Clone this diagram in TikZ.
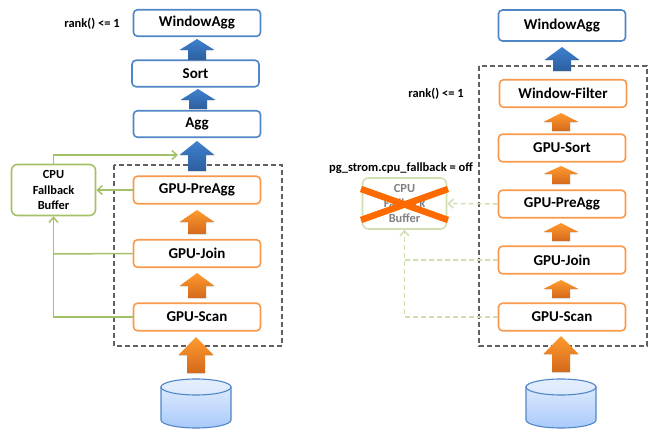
\documentclass[tikz,border=0pt]{standalone}
\usepackage{fontspec}
\setmainfont{Carlito}
\usetikzlibrary{arrows.meta,shadows}
\definecolor{bluebox}{HTML}{4F86C6}
\definecolor{orangebox}{HTML}{F8994C}
\definecolor{greenbox}{HTML}{A3C268}
\definecolor{palegreen}{HTML}{CFDFB2}
\definecolor{crossorange}{HTML}{FF6A00}
\definecolor{dashgray}{HTML}{606060}
\definecolor{bluetop}{HTML}{3F80CF}
\definecolor{bluebottom}{HTML}{2C5F9E}
\definecolor{orangetop}{HTML}{FF9A2E}
\definecolor{orangebottom}{HTML}{D4691C}
\definecolor{disktop}{HTML}{DCE9FD}
\definecolor{diskbottom}{HTML}{A9CAFB}
\tikzset{
    block/.style = {draw=bluebox, rectangle, fill=white, rounded corners=4pt, line width=1.6pt,
        minimum width=127pt, minimum height=26.5pt, inner sep=0pt,
        font=\fontsize{15}{17}\selectfont\bfseries},
    gpublock/.style = {block, draw=orangebox, minimum height=27.5pt},
    fallback/.style = {draw=greenbox, rectangle, rounded corners=6pt, line width=1.6pt, fill=white,
        minimum width=84pt, minimum height=51pt, inner sep=0pt, align=center,
        font=\fontsize{12.4}{15.2}\selectfont\bfseries},
    note/.style = {inner sep=0pt, font=\fontsize{12.5}{15}\selectfont\bfseries},
    frame/.style = {draw=dashgray, line width=1.1pt, dash pattern=on 5pt off 3pt},
    feed/.style = {draw=greenbox, line width=1.5pt, -{Straight Barb[length=5pt,width=9pt]}},
    feedline/.style = {draw=greenbox, line width=1.5pt},
    nofeed/.style = {draw=palegreen, line width=1.5pt, dash pattern=on 5pt off 3pt, -{Straight Barb[length=5pt,width=9pt]}},
    nofeedline/.style = {draw=palegreen, line width=1.5pt, dash pattern=on 5pt off 3pt},
    bluearrow/.style = {top color=bluetop, bottom color=bluebottom, drop shadow={opacity=.25,shadow xshift=0pt,shadow yshift=-1.2pt}},
    orangearrow/.style = {top color=orangetop, bottom color=orangebottom, drop shadow={opacity=.25,shadow xshift=0pt,shadow yshift=-1.2pt}},
}
% x, tip, head base, bottom
\newcommand{\flowarrow}[5]{%
    \shade [#1] (#2,#3) -- (#2+17.5,#4) -- (#2+9,#4) -- (#2+9,#5) -- (#2-9,#5) -- (#2-9,#4) -- (#2-17.5,#4) -- cycle;
}
\newcommand{\disk}[1]{%
    \draw [draw=bluebox, line width=1.1pt, top color=disktop, bottom color=diskbottom]
        (#1-35,387) -- (#1-35,420) arc[start angle=180, end angle=360, x radius=35, y radius=-8] -- (#1+35,387) -- cycle;
    \draw [draw=bluebox, line width=1.1pt, top color=disktop!80!white, bottom color=disktop]
        (#1,387) ellipse [x radius=35, y radius=8];
}
\begin{document}
\begin{tikzpicture}[x=1pt, y=-1pt]
    \useasboundingbox (0,0) rectangle (656,438);
    % left column
    \node [gpublock] (lscan) at (197,317) {GPU-Scan};
    \node [gpublock, above of=lscan, node distance=63.5pt] (ljoin) {GPU-Join};
    \node [gpublock, above of=ljoin, node distance=63.5pt] (lpreagg) {GPU-PreAgg};
    \node [block, above of=lpreagg, node distance=66pt] (lagg) {Agg};
    \node [block, above of=lagg, node distance=50.5pt, xshift=-1.5pt] (lsort) {Sort};
    \node [block, above of=lagg, node distance=101pt] (lwindow) {WindowAgg};
    \node [note] (lrank) at (92,24) {rank() <= 1};
    \node [fallback] (lbuffer) at (53.5,190) {CPU\\Fallback\\Buffer};
    \coordinate (ltop) at (53.5,155);
    \coordinate (lend) at (178,155);
    \coordinate (ljoinbend) at (53.5,254);
    \coordinate (lscanbend) at (53.5,317);
    \draw [frame] (114,165) rectangle (282,346);
    \flowarrow{bluearrow}{197}{39}{50}{60}
    \flowarrow{bluearrow}{198}{89}{100}{109}
    \flowarrow{bluearrow}{197}{141}{155}{171}
    \flowarrow{orangearrow}{197}{210}{222}{234}
    \flowarrow{orangearrow}{197}{273}{286}{298}
    \flowarrow{orangearrow}{196}{337}{355}{373}
    \disk{196}
    \draw [feed] (lbuffer.north) -- (ltop) -- (lend);
    \draw [feed] (lpreagg) -- (lbuffer);
    \draw [feed] (lscan.west) -- (lscanbend) -- (lbuffer.south);
    \draw [feedline] (ljoin.west) -- (ljoinbend);
    % right column
    \node [gpublock] (rscan) at (562,317) {GPU-Scan};
    \node [gpublock, above of=rscan, node distance=57pt] (rjoin) {GPU-Join};
    \node [gpublock, above of=rjoin, node distance=56pt] (rpreagg) {GPU-PreAgg};
    \node [gpublock, above of=rpreagg, node distance=56pt] (rsort) {GPU-Sort};
    \node [gpublock, above of=rsort, node distance=54.5pt, xshift=1pt] (rfilter) {Window-Filter};
    \node [block, minimum height=31pt] (rwindow) at (562,25.5) {WindowAgg};
    \node [note] (rrank) at (436,94) {rank() <= 1};
    \node [note] (rguc) at (401,168) {pg\_strom.cpu\_fallback = off};
    \node [fallback, draw=palegreen, text=gray] (rbuffer) at (404.5,203.5) {CPU\\Fallback\\Buffer};
    \coordinate (rjoinbend) at (404.5,260);
    \coordinate (rscanbend) at (404.5,317);
    \draw [frame] (479,66) rectangle (647,346);
    \flowarrow{bluearrow}{562}{47}{60}{71}
    \flowarrow{orangearrow}{561}{113}{122}{131}
    \flowarrow{orangearrow}{561}{166}{174}{184}
    \flowarrow{orangearrow}{561}{223}{232}{241}
    \flowarrow{orangearrow}{561}{280}{289}{298}
    \flowarrow{orangearrow}{561}{336}{354}{372}
    \disk{561}
    \draw [nofeed] (rpreagg) -- (rbuffer);
    \draw [nofeed] (rscan.west) -- (rscanbend) -- (rbuffer.south);
    \draw [nofeedline] (rjoin.west) -- (rjoinbend);
    \draw [draw=crossorange, line width=6.5pt] (361,189) -- (448,220);
    \draw [draw=crossorange, line width=6.5pt] (361,220) -- (448,189);
\end{tikzpicture}
\end{document}
